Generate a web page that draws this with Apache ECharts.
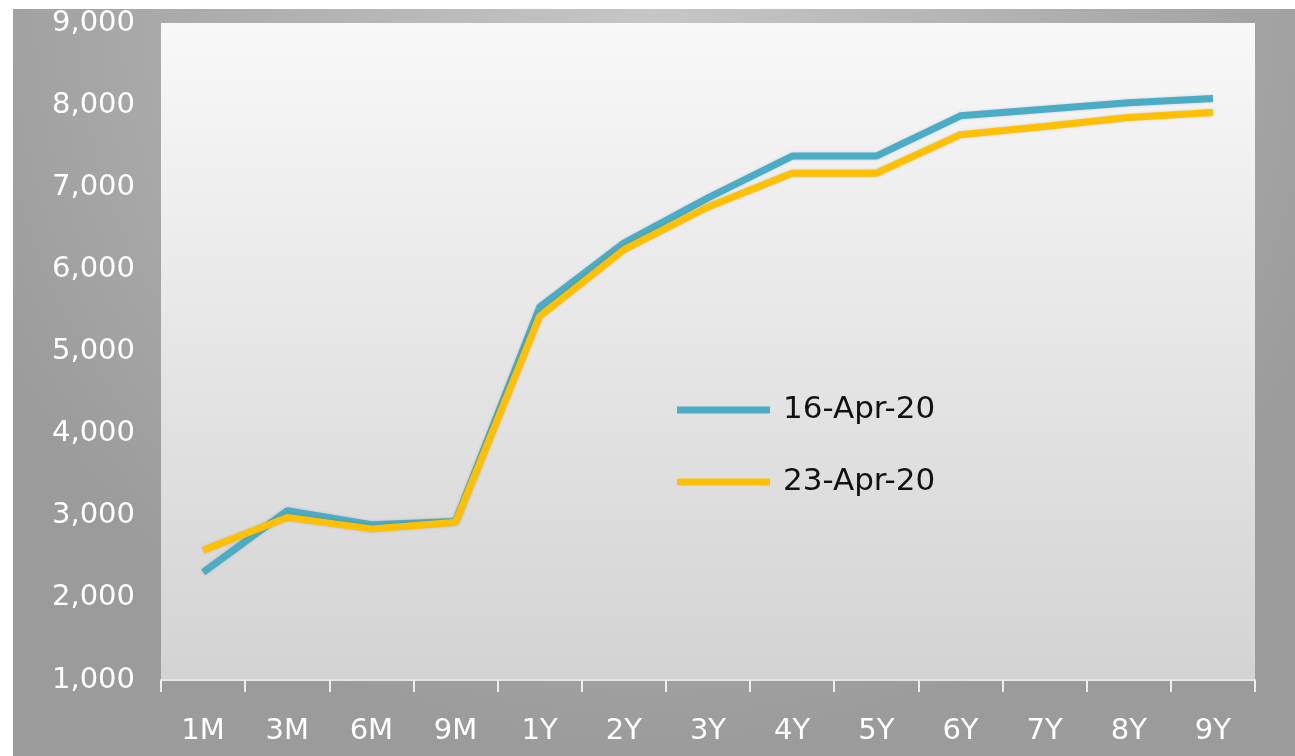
<!DOCTYPE html>
<html>
<head>
<meta charset="utf-8">
<script src="https://cdn.jsdelivr.net/npm/echarts@6/dist/echarts.min.js"></script>
<style>
  html, body { margin: 0; padding: 0; background: #fff; }
  #chart { width: 1295px; height: 756px; }
</style>
</head>
<body>
<div id="chart"></div>
<script>
const tenors = ['1M', '3M', '6M', '9M', '1Y', '2Y', '3Y', '4Y', '5Y', '6Y', '7Y', '8Y', '9Y']
const apr16 = [2310, 3060, 2890, 2930, 5540, 6320, 6870, 7380, 7380, 7870, 7950, 8030, 8080]
const apr23 = [2580, 2980, 2840, 2920, 5430, 6240, 6760, 7170, 7170, 7640, 7740, 7850, 7910]
const seriesNames = ['16-Apr-20', '23-Apr-20']
const seriesColors = ['#4bacc6', '#ffc000']

const chart = echarts.init(document.getElementById('chart'), null, { renderer: 'canvas' })

const labelFont = 'DejaVu Sans'

const option = {
  animation: false,
  backgroundColor: '#ffffff',
  graphic: [{
    type: 'rect',
    z: -10,
    shape: { x: 13, y: 9, width: 1282, height: 747 },
    style: {
      fill: new echarts.graphic.RadialGradient(0.5, 0, 1, [
        { offset: 0, color: '#c6c6c6' },
        { offset: 1, color: '#9b9b9b' }
      ])
    }
  }],
  grid: {
    left: 161,
    right: 40,
    top: 23,
    bottom: 76,
    show: true,
    borderWidth: 0,
    backgroundColor: new echarts.graphic.LinearGradient(0, 0, 0, 1, [
      { offset: 0, color: '#f8f8f8' },
      { offset: 1, color: '#d3d3d3' }
    ])
  },
  legend: {
    orient: 'vertical',
    left: 672,
    top: 389,
    icon: 'rect',
    itemWidth: 93,
    itemHeight: 7,
    itemGap: 40,
    data: seriesNames,
    textStyle: {
      color: '#111',
      fontFamily: labelFont,
      fontSize: 31,
      lineHeight: 32,
      padding: [0, 0, 0, 8]
    }
  },
  xAxis: {
    type: 'category',
    data: tenors,
    boundaryGap: true,
    axisLine: { lineStyle: { color: '#e4e4e4', width: 2 } },
    axisTick: { show: true, length: 12, lineStyle: { color: '#eeeeee', width: 2 } },
    axisLabel: {
      color: '#ffffff',
      fontFamily: labelFont,
      fontSize: 29,
      margin: 37
    }
  },
  yAxis: {
    type: 'value',
    min: 1000,
    max: 9000,
    interval: 1000,
    splitLine: { show: false },
    axisLine: { show: false },
    axisTick: { show: false },
    axisLabel: {
      color: '#ffffff',
      fontFamily: labelFont,
      fontSize: 29,
      margin: 26,
      formatter: v => v.toLocaleString('en-US')
    }
  },
  series: [apr16, apr23].map((data, i) => ({
    name: seriesNames[i],
    type: 'line',
    data: data,
    symbol: 'none',
    color: seriesColors[i],
    lineStyle: {
      width: 7,
      color: seriesColors[i],
      shadowColor: 'rgba(0,0,0,0.15)',
      shadowBlur: 3
    },
    z: 2 + i
  }))
}

chart.setOption(option)
</script>
</body>
</html>
